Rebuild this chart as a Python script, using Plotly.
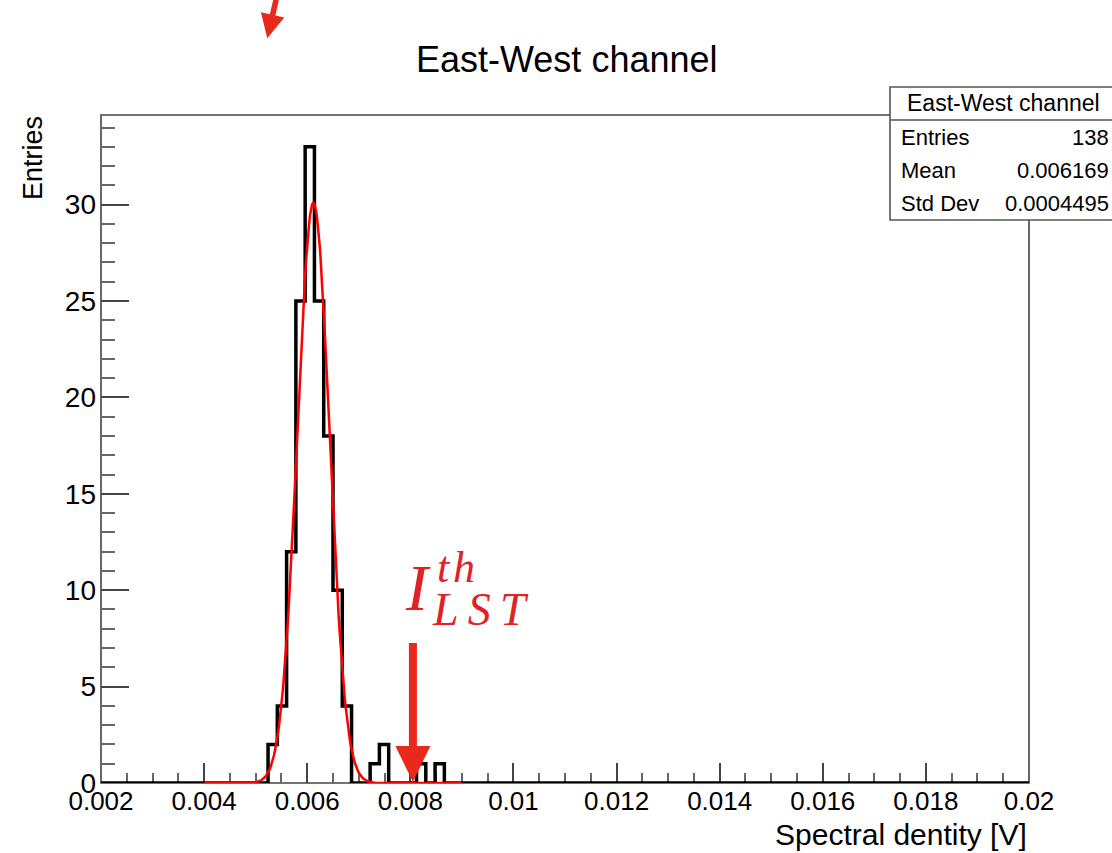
import numpy as np
import plotly.graph_objects as go

# ---------------- data ----------------
hist_x_min = 0.002
hist_x_max = 0.02
hist_n_bins = 100
filled_bins = [18, 19, 20, 21, 22, 23, 24, 25, 26, 29, 30, 34, 36]
filled_counts = [2, 4, 12, 25, 33, 25, 18, 10, 4, 1, 2, 1, 1]

fit_amplitude = 30.1
fit_mean = 0.00612
fit_sigma = 0.00031
fit_x_from = 0.004
fit_x_to = 0.009

x_tick_values = [0.002, 0.004, 0.006, 0.008, 0.010, 0.012, 0.014, 0.016, 0.018, 0.020]
x_tick_labels = ["0.002", "0.004", "0.006", "0.008", "0.01", "0.012", "0.014", "0.016", "0.018", "0.02"]
y_tick_values = [0, 5, 10, 15, 20, 25, 30]
y_tick_labels = ["0", "5", "10", "15", "20", "25", "30"]
y_max = 34.65

chart_title = "East-West channel"
x_title = "Spectral dentity [V]"
y_title = "Entries"
stats_title = "East-West channel"
stats_labels = ["Entries", "Mean", "Std Dev"]
stats_values = ["138", "0.006169", "0.0004495"]
threshold_x = 0.00805

# ---------------- geometry helpers ----------------
W, H = 1112, 853
ML, MR, MT, MB = 101, 83, 115, 70
PW = W - ML - MR
PH = H - MT - MB


def px(xp):
    return (xp - ML) / PW


def py(yp):
    return (H - MB - yp) / PH


def data_to_px(x):
    return ML + (x - hist_x_min) / (hist_x_max - hist_x_min) * PW


SANS = "Liberation Sans, Arial, Helvetica, sans-serif"
SERIF = "Liberation Serif, Times New Roman, serif"
RED_ARROW = "#e8291c"
RED_TEXT = "#de2226"

# ---------------- histogram ----------------
edges = np.linspace(hist_x_min, hist_x_max, hist_n_bins + 1)
counts = np.zeros(hist_n_bins)
counts[filled_bins] = filled_counts
step_y = np.append(counts, counts[-1])

fit_x = np.linspace(fit_x_from, fit_x_to, 300)
fit_y = fit_amplitude * np.exp(-0.5 * ((fit_x - fit_mean) / fit_sigma) ** 2)

fig = go.Figure()
fig.add_trace(go.Scatter(x=edges, y=step_y, mode="lines", line=dict(color="black", width=3.5, shape="hv"),
                         hoverinfo="skip", showlegend=False))
fig.add_trace(go.Scatter(x=fit_x, y=fit_y, mode="lines", line=dict(color="#ff0000", width=2.5),
                         hoverinfo="skip", showlegend=False))

shapes = []
# frame
shapes.append(dict(type="rect", xref="paper", yref="paper", x0=0, x1=1, y0=0, y1=1,
                   line=dict(color="#444", width=1.6), layer="below"))

# big threshold arrow
cx = data_to_px(threshold_x)
shaft_top, head_base, tip_y = 643, 746, 782
shaft_hw, head_hw = 4, 17.5
path = (f"M {px(cx - shaft_hw)} {py(shaft_top)} L {px(cx + shaft_hw)} {py(shaft_top)} "
        f"L {px(cx + shaft_hw)} {py(head_base)} L {px(cx + head_hw)} {py(head_base)} "
        f"L {px(cx)} {py(tip_y)} L {px(cx - head_hw)} {py(head_base)} "
        f"L {px(cx - shaft_hw)} {py(head_base)} Z")
shapes.append(dict(type="path", xref="paper", yref="paper", path=path,
                   fillcolor=RED_ARROW, line=dict(width=0), layer="above"))

# small arrow at the top
tip = np.array([267.3, 38.3])
start = np.array([276.0, 0.0])
u = (tip - start) / np.linalg.norm(tip - start)
n = np.array([u[1], -u[0]])
hb = tip - 24 * u
s0 = hb - 40 * u
pts = [s0 + 2.8 * n, hb + 2.8 * n, hb + 12 * n, tip, hb - 12 * n, hb - 2.8 * n, s0 - 2.8 * n]
path2 = "M " + " L ".join(f"{px(p[0])} {py(p[1])}" for p in pts) + " Z"
shapes.append(dict(type="path", xref="paper", yref="paper", path=path2,
                   fillcolor=RED_ARROW, line=dict(width=0), layer="above"))

# stats box
bx0, bx1, by0, by1, bsep = 890, 1114, 87, 220, 120
shapes.append(dict(type="rect", xref="paper", yref="paper", x0=px(bx0), x1=px(bx1), y0=py(by1), y1=py(by0),
                   line=dict(color="#555", width=1.6), fillcolor="white", layer="above"))
shapes.append(dict(type="line", xref="paper", yref="paper", x0=px(bx0), x1=px(bx1), y0=py(bsep), y1=py(bsep),
                   line=dict(color="#555", width=1.6), layer="above"))

annotations = []
annotations.append(dict(text=chart_title, x=px(566), y=py(59), xref="paper", yref="paper",
                        xanchor="center", yanchor="middle", showarrow=False,
                        font=dict(family=SANS, size=36, color="black")))
annotations.append(dict(text=x_title, x=px(1029), y=py(834), xref="paper", yref="paper",
                        xanchor="right", yanchor="middle", showarrow=False,
                        font=dict(family=SANS, size=30, color="black")))
annotations.append(dict(text=y_title, x=px(33), y=py(114), xref="paper", yref="paper",
                        xanchor="center", yanchor="top", textangle=-90, showarrow=False,
                        font=dict(family=SANS, size=27, color="black")))
annotations.append(dict(text=stats_title, x=px(1003), y=py(103), xref="paper", yref="paper",
                        xanchor="center", yanchor="middle", showarrow=False,
                        font=dict(family=SANS, size=23, color="black")))
for i, (lab, val) in enumerate(zip(stats_labels, stats_values)):
    yy = 137 + i * 33.2
    annotations.append(dict(text=lab, x=px(899), y=py(yy), xref="paper", yref="paper",
                            xanchor="left", yanchor="middle", showarrow=False,
                            font=dict(family=SANS, size=22, color="black")))
    annotations.append(dict(text=val, x=px(1111), y=py(yy), xref="paper", yref="paper",
                            xanchor="right", yanchor="middle", showarrow=False,
                            font=dict(family=SANS, size=22, color="black")))

# I^{th}_{LST}
annotations.append(dict(text="<i>I</i>", x=px(418), y=py(587), xref="paper", yref="paper",
                        xanchor="center", yanchor="middle", showarrow=False,
                        font=dict(family=SERIF, size=66, color=RED_TEXT)))
annotations.append(dict(text="<i>t\u200ah</i>", x=px(456), y=py(567), xref="paper", yref="paper",
                        xanchor="center", yanchor="middle", showarrow=False,
                        font=dict(family=SERIF, size=44, color=RED_TEXT)))
annotations.append(dict(text="<i>L\u2009S\u2009T</i>", x=px(480), y=py(609), xref="paper", yref="paper",
                        xanchor="center", yanchor="middle", showarrow=False,
                        font=dict(family=SERIF, size=46, color=RED_TEXT)))

fig.update_layout(
    width=W, height=H,
    margin=dict(l=ML, r=MR, t=MT, b=MB, pad=0),
    paper_bgcolor="white", plot_bgcolor="white",
    showlegend=False,
    shapes=shapes, annotations=annotations,
    xaxis=dict(range=[hist_x_min, hist_x_max], showline=False, showgrid=False, zeroline=False,
               ticks="inside", ticklen=20, tickwidth=1.5, tickcolor="#444",
               tickmode="array", tickvals=x_tick_values, ticktext=x_tick_labels,
               tickfont=dict(family=SANS, size=26, color="black"), layer="below traces",
               minor=dict(ticks="inside", ticklen=10, tickwidth=1.5, tickcolor="#666",
                          dtick=0.0005, tick0=0.002, showgrid=False)),
    yaxis=dict(range=[0, y_max], showline=False, showgrid=False, zeroline=False,
               ticks="inside", ticklen=28, tickwidth=1.5, tickcolor="#444",
               tickmode="array", tickvals=y_tick_values, ticktext=y_tick_labels,
               tickfont=dict(family=SANS, size=28, color="black"), layer="below traces",
               ticklabelstandoff=4,
               minor=dict(ticks="inside", ticklen=14, tickwidth=1.5, tickcolor="#666",
                          dtick=1, tick0=0, showgrid=False)),
)

fig.write_html("out.html")
